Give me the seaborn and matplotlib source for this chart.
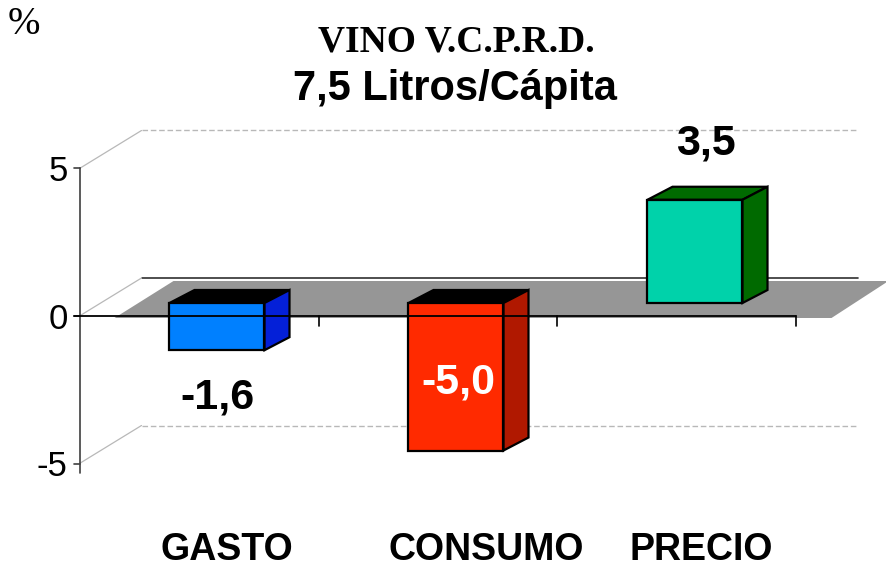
import matplotlib
matplotlib.use("Agg")
import matplotlib.pyplot as plt
from matplotlib.patches import Polygon
import seaborn as sns
import pandas as pd

# data
categories = ["GASTO", "CONSUMO", "PRECIO"]
values = [-1.6, -5.0, 3.5]
value_labels = ["-1,6", "-5,0", "3,5"]
y_ticks = [-5, 0, 5]

# style
front_colors = ["#0080ff", "#ff2a00", "#00d2aa"]
side_colors = ["#0420d8", "#b01800", "#006a00"]
top_colors = ["#000000", "#000000", "#006a00"]
label_place = ["below", "inside", "above"]
label_nudge = [10, 30, 6]  # px, category names

W, H, DPI = 887, 567, 100
PX_X = 239.0   # pixels per category
PX_Y = 29.5    # pixels per y unit
PT = 72.0 / DPI

sns.set_theme(style="white")
plt.rcParams["font.family"] = ["Liberation Sans", "DejaVu Sans"]
plt.rcParams["text.color"] = "black"

fig = plt.figure(figsize=(W / DPI, H / DPI), dpi=DPI)
ax = fig.add_axes([0, 0, 1, 1])

df = pd.DataFrame({"cat": categories, "val": values})
sns.barplot(data=df, x="cat", y="val", hue="cat", palette=front_colors,
            width=95 / PX_X, saturation=1, edgecolor="black", linewidth=1.6,
            legend=False, ax=ax, zorder=3)

ax.set_xlim(-217 / PX_X, (W - 217) / PX_X)
ax.set_ylim(-(H - 303) / PX_Y, 303 / PX_Y)
ax.set_axis_off()


def fpt(x, y):
    # front plane of the box
    return x - 18 / PX_X, y - 13 / PX_Y


def bpt(x, y):
    # back wall
    return x + 44 / PX_X, y + 25 / PX_Y


# back wall lines + left diagonals
for v in y_ticks:
    (x0, y0), (x1, y1) = bpt(-0.5, v), bpt(2.5, v)
    if v == 0:
        ax.plot([x0, x1], [y0, y1], color="#303030", lw=1.2, zorder=0.5)
    else:
        ax.plot([x0, x1], [y0, y1], color="#b8b8b8", lw=1.0, ls=(0, (4, 2)), zorder=0.5)
    (fx, fy) = fpt(-0.5, v)
    ax.plot([fx, x0], [fy, y0], color="#b8b8b8", lw=0.9, zorder=0.5)

# grey floor
floor = [fpt(-0.5 + 35 / PX_X, -2 / PX_Y), fpt(2.5 + 35 / PX_X, -2 / PX_Y),
         bpt(2.5 + 30 / PX_X, -3 / PX_Y), bpt(-0.5 + 32 / PX_X, -3 / PX_Y)]
ax.add_patch(Polygon(floor, closed=True, fc="#969696", ec="none", zorder=1))

# 3d faces of the bars
dx, dy = 25 / PX_X, 13 / PX_Y
for i, p in enumerate(ax.patches[:len(values)]):
    x0, w = p.get_x(), p.get_width()
    lo = min(p.get_y(), p.get_y() + p.get_height())
    hi = max(p.get_y(), p.get_y() + p.get_height())
    top = [(x0, hi), (x0 + w, hi), (x0 + w + dx, hi + dy), (x0 + dx, hi + dy)]
    side = [(x0 + w, lo), (x0 + w, hi), (x0 + w + dx, hi + dy), (x0 + w + dx, lo + dy)]
    ax.add_patch(Polygon(top, closed=True, fc=top_colors[i], ec="black", lw=1.6, zorder=2.5))
    ax.add_patch(Polygon(side, closed=True, fc=side_colors[i], ec="black", lw=1.6, zorder=2.5))

    cx = x0 + w / 2
    if label_place[i] == "below":
        xy, off, col = (cx, lo), (0, -58), "black"
    elif label_place[i] == "above":
        xy, off, col = (cx, hi), (11, 45), "black"
    else:
        xy, off, col = (cx, (lo + hi) / 2), (2, -17), "white"
    ax.annotate(value_labels[i], xy, xytext=(off[0] * PT, off[1] * PT),
                textcoords="offset points", ha="center", va="baseline",
                fontsize=31, fontweight="bold", color=col, zorder=6)

    ax.annotate(categories[i], (cx, -(H - 303) / PX_Y),
                xytext=(label_nudge[i] * PT, 7 * PT), textcoords="offset points",
                ha="center", va="baseline", fontsize=27, fontweight="bold", color="black")

# front axis
(ax0, ay0), (ax1, ay1) = fpt(-0.5, 5), fpt(-0.5, -5 - 9 / PX_Y)
ax.plot([ax0, ax1], [ay0, ay1], color="#404040", lw=1.2, zorder=5)
for v in y_ticks:
    (tx0, ty), (tx1, _) = fpt(-0.5 - 6 / PX_X, v), fpt(-0.5, v)
    ax.plot([tx0, tx1], [ty, ty], color="#404040", lw=1.2, zorder=5)
    lx, ly = fpt(-0.5 - 12 / PX_X, v)
    ax.text(lx, ly, str(v), ha="right", va="center_baseline", fontsize=25, color="black")

(zx0, zy), (zx1, _) = fpt(-0.5 - 6 / PX_X, 0), fpt(2.5, 0)
ax.plot([zx0, zx1], [zy, zy], color="black", lw=1.3, zorder=5)
for b in [0.5, 1.5, 2.5]:
    (bx, by0), (_, by1) = fpt(b, 0), fpt(b, -10 / PX_Y)
    ax.plot([bx, bx], [by0, by1], color="black", lw=1.2, zorder=5)

# titles
fig.text(8 / W, 1 - 34 / H, "%", family=["Liberation Serif", "DejaVu Serif"],
         fontsize=28, ha="left", va="baseline")
fig.text(456 / W, 1 - 51 / H, "VINO V.C.P.R.D.", family=["Liberation Serif", "DejaVu Serif"],
         fontsize=27, fontweight="bold", ha="center", va="baseline")
fig.text(455 / W, 1 - 100 / H, "7,5 Litros/Cápita", fontsize=30, fontweight="bold",
         ha="center", va="baseline")

fig.savefig("out.png", dpi=DPI)
